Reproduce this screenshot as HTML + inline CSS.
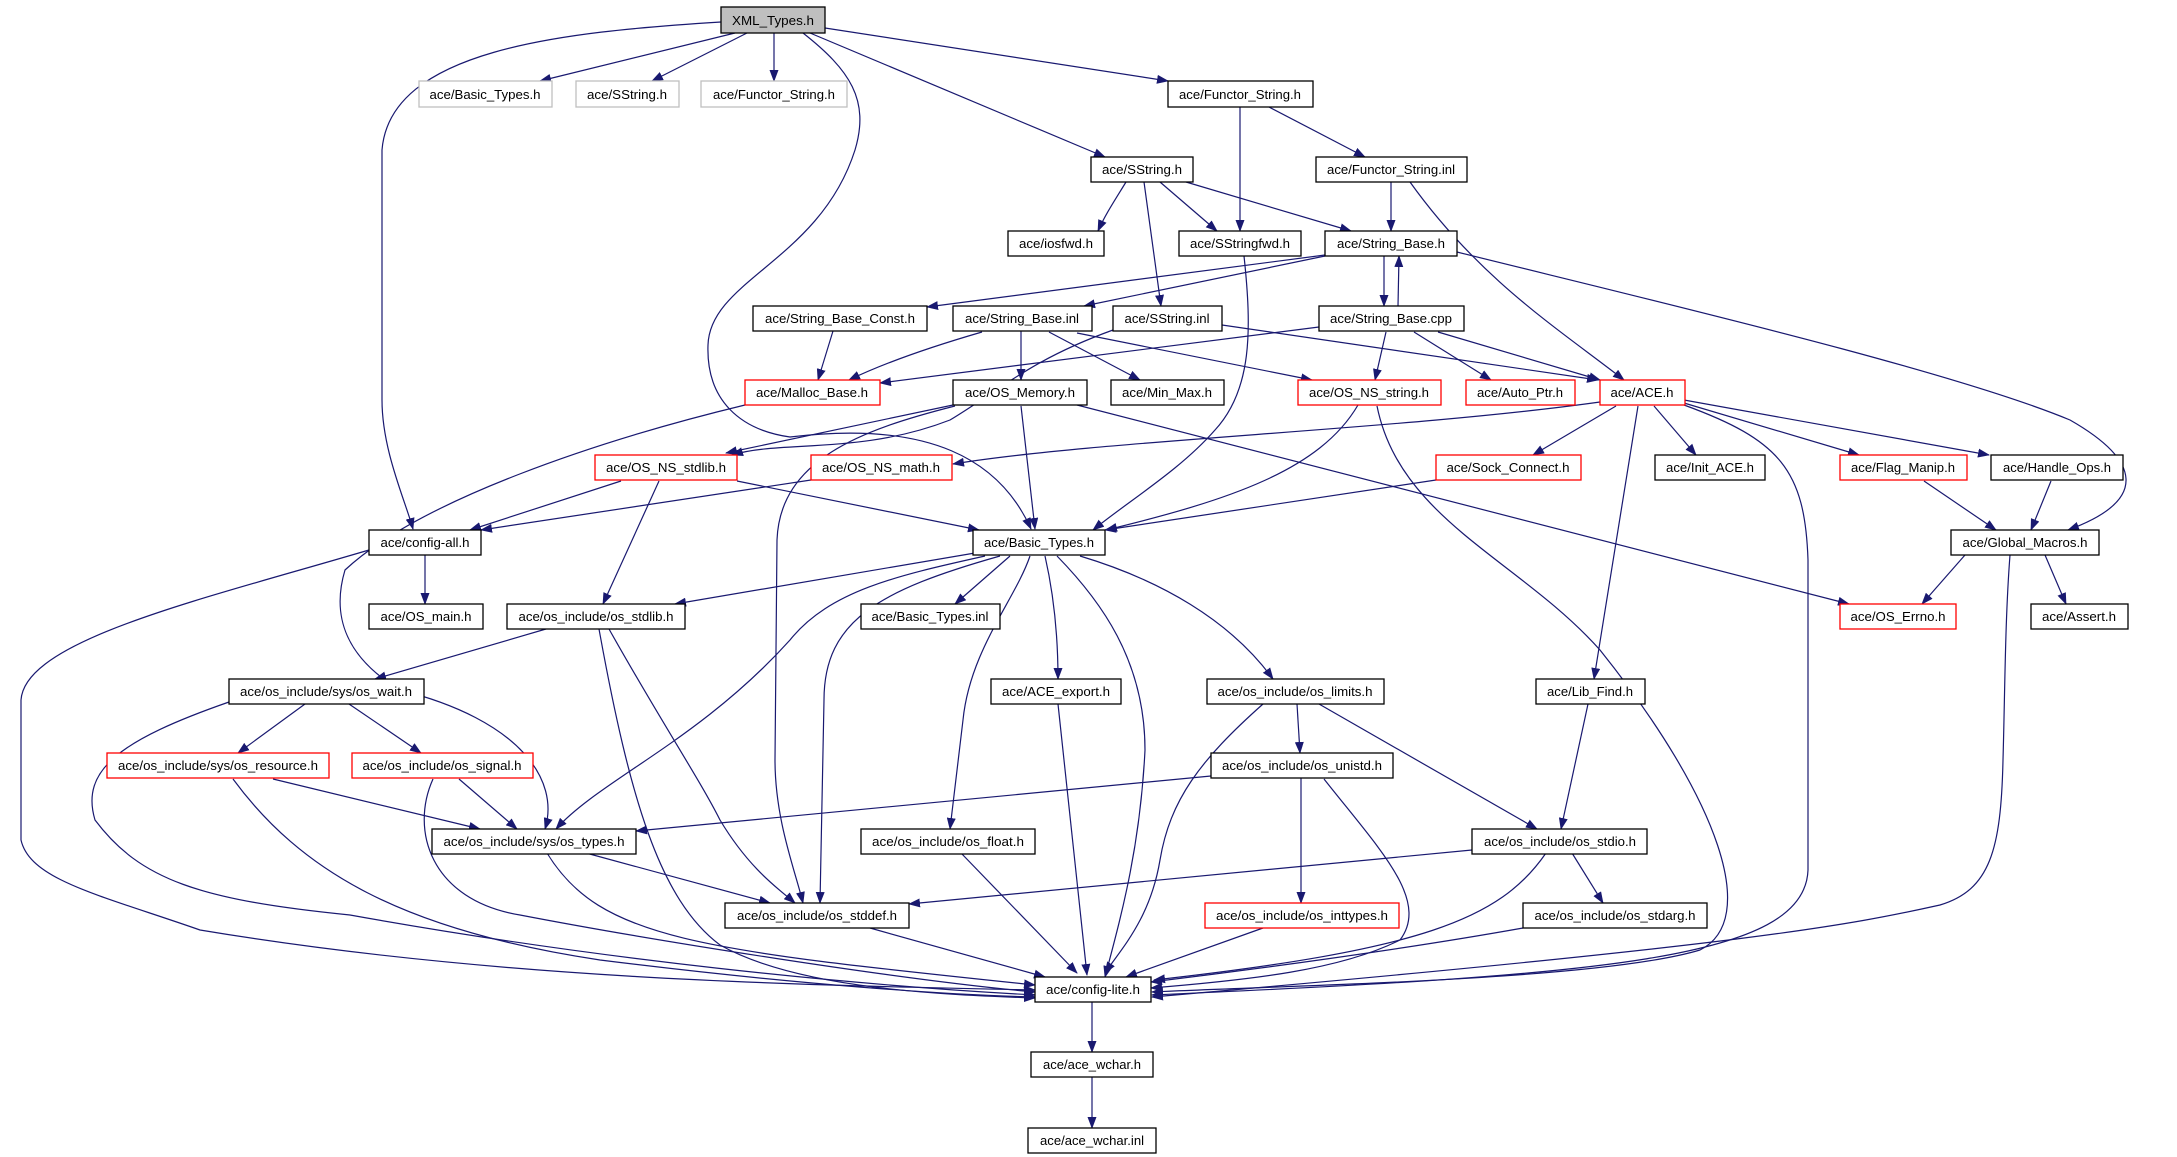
<!DOCTYPE html>
<html><head><meta charset="utf-8"><style>
html,body{margin:0;padding:0;background:#fff}
svg{display:block}
text{font-family:"Liberation Sans",sans-serif;font-size:13px;fill:#000}
.e{fill:none;stroke:#191970;stroke-width:1.2}
</style></head><body>
<svg width="2177" height="1157" viewBox="0 0 2177 1157" xmlns="http://www.w3.org/2000/svg">
<defs><marker id="a" markerWidth="12" markerHeight="9" refX="11" refY="4.5" orient="auto" markerUnits="userSpaceOnUse"><path d="M0,0 L12,4.5 L0,9 z" fill="#191970"/></marker></defs>
<g class="e" marker-end="url(#a)">
<path d="M721,22 C560,32 390,50 382,150 L382,400 C382,450 405,500 413,529"/>
<path d="M735,33 L540,81"/>
<path d="M747,33 L652,81"/>
<path d="M774,33 L774,81"/>
<path d="M803,33 C850,70 870,100 855,150 C820,260 710,280 708,345 C706,400 740,430 790,437 C930,420 1000,460 1031,529"/>
<path d="M810,33 L1105,157"/>
<path d="M825,28 L1168,81"/>
<path d="M1240,107 L1240,231"/>
<path d="M1269,107 L1365,157"/>
<path d="M1126,182 C1115,200 1105,215 1098,231"/>
<path d="M1160,182 L1217,231"/>
<path d="M1186,182 L1351,231"/>
<path d="M1144,182 L1161,306"/>
<path d="M1391,182 L1391,231"/>
<path d="M1410,182 C1440,220 1460,240 1480,280 C1540,390 1590,440 1624,380" style="display:none"/>
<path d="M1410,182 C1450,240 1500,300 1530,360 C1570,430 1600,330 1624,380" style="display:none"/>
<path d="M1410,182 C1480,280 1560,330 1624,380"/>
<path d="M1244,256 C1252,330 1252,390 1215,430 C1180,470 1130,500 1093,530"/>
<path d="M1325,255 L927,307"/>
<path d="M1325,256 L1084,306"/>
<path d="M1384,256 L1384,306"/>
<path d="M1398,306 L1399,256"/>
<path d="M1457,252 C1650,300 1950,370 2070,420 C2140,460 2150,500 2068,530"/>
<path d="M833,331 L818,380"/>
<path d="M982,332 C920,350 880,365 849,380"/>
<path d="M1021,331 L1021,380"/>
<path d="M1049,332 L1140,380"/>
<path d="M1077,333 L1312,380"/>
<path d="M1222,325 L1598,380"/>
<path d="M1113,330 C1030,360 1000,390 950,420 C860,455 780,440 732,455"/>
<path d="M1319,327 L880,383"/>
<path d="M1386,332 L1375,380"/>
<path d="M1414,332 L1491,380"/>
<path d="M1438,332 L1600,380"/>
<path d="M745,405 C600,440 420,500 345,570 C330,620 350,660 400,690 C520,720 560,780 545,829"/>
<path d="M953,405 L726,453"/>
<path d="M1021,406 L1035,529"/>
<path d="M1077,405 L1849,604"/>
<path d="M955,406 C860,430 780,460 777,540 L775,760 C775,820 795,870 803,903"/>
<path d="M1358,405 C1320,470 1230,500 1106,530"/>
<path d="M1377,406 C1400,520 1520,560 1600,650 C1720,800 1760,920 1700,950 C1600,980 1300,985 1152,992"/>
<path d="M1600,402 C1400,430 1100,440 953,464"/>
<path d="M1616,406 L1533,455"/>
<path d="M1654,406 L1696,455"/>
<path d="M1684,403 L1859,455"/>
<path d="M1684,400 L1989,455"/>
<path d="M1638,406 L1594,679"/>
<path d="M1684,405 C1780,440 1805,470 1808,560 L1808,870 C1805,960 1600,975 1152,995"/>
<path d="M621,481 L470,530"/>
<path d="M737,481 L979,530"/>
<path d="M659,481 L603,604"/>
<path d="M811,480 L481,530"/>
<path d="M1436,480 L1105,530"/>
<path d="M1924,481 L1996,530"/>
<path d="M2051,481 L2031,530"/>
<path d="M425,555 L425,604"/>
<path d="M369,550 C200,600 25,640 21,700 L21,840 C30,880 100,895 200,930 C500,980 800,985 1035,990"/>
<path d="M975,553 L675,604"/>
<path d="M1010,556 L955,604"/>
<path d="M985,556 C900,575 830,590 790,640 C700,740 600,780 556,829"/>
<path d="M1000,556 C880,590 824,620 824,700 L820,903"/>
<path d="M1045,556 C1055,600 1058,640 1058,679"/>
<path d="M1030,556 C1015,600 970,650 963,720 L950,829"/>
<path d="M1057,556 C1100,600 1145,660 1145,750 C1140,850 1120,920 1105,977"/>
<path d="M1080,556 C1160,580 1230,620 1273,679"/>
<path d="M546,629 L375,679"/>
<path d="M599,629 C630,800 660,900 720,945 C800,990 950,995 1035,998"/>
<path d="M609,629 C660,720 700,780 720,820 C750,870 780,890 795,903"/>
<path d="M305,704 L238,753"/>
<path d="M349,704 L421,753"/>
<path d="M229,702 C120,740 80,770 95,820 C140,880 200,900 350,915 C600,960 850,985 1035,995"/>
<path d="M273,779 L480,829"/>
<path d="M233,779 C300,870 400,930 600,960 C800,985 950,995 1035,997"/>
<path d="M459,779 L517,829"/>
<path d="M433,779 C410,830 430,900 520,915 C650,940 900,980 1035,992"/>
<path d="M586,853 L770,903"/>
<path d="M547,853 C600,940 700,950 1035,985"/>
<path d="M870,928 L1045,977"/>
<path d="M961,853 L1077,973"/>
<path d="M1058,704 L1087,975"/>
<path d="M1297,704 L1300,753"/>
<path d="M1319,704 L1537,829"/>
<path d="M1263,704 C1200,760 1170,800 1160,860 C1150,920 1120,950 1105,973"/>
<path d="M1211,776 L636,831"/>
<path d="M1301,778 L1301,903"/>
<path d="M1324,779 C1380,850 1430,900 1400,940 C1340,970 1250,980 1151,988"/>
<path d="M1588,704 L1561,829"/>
<path d="M1472,850 L909,904"/>
<path d="M1572,853 L1603,903"/>
<path d="M1546,853 C1500,920 1420,950 1154,980"/>
<path d="M1263,928 L1126,977"/>
<path d="M1523,928 C1400,950 1250,970 1151,982"/>
<path d="M1965,555 L1922,604"/>
<path d="M2045,555 L2066,604"/>
<path d="M2010,555 C2005,620 2005,690 2003,760 C2001,850 1990,890 1940,905 C1850,925 1750,945 1152,997"/>
<path d="M1092,1002 L1092,1052"/>
<path d="M1092,1077 L1092,1128"/>
</g>
<g stroke-width="1.3" fill="#fff">
<rect x="721" y="7" width="104" height="26" fill="#bfbfbf" stroke="#000"/>
<rect x="419" y="81" width="133" height="26" stroke="#bfbfbf"/>
<rect x="576" y="81" width="103" height="26" stroke="#bfbfbf"/>
<rect x="701" y="81" width="146" height="26" stroke="#bfbfbf"/>
<g stroke="#000">
<rect x="1168" y="81" width="145" height="26"/>
<rect x="1091" y="157" width="102" height="25"/>
<rect x="1316" y="157" width="151" height="25"/>
<rect x="1008" y="231" width="96" height="25"/>
<rect x="1179" y="231" width="122" height="25"/>
<rect x="1325" y="231" width="132" height="25"/>
<rect x="753" y="306" width="174" height="25"/>
<rect x="953" y="306" width="139" height="25"/>
<rect x="1113" y="306" width="109" height="25"/>
<rect x="1319" y="306" width="145" height="25"/>
<rect x="953" y="380" width="134" height="25"/>
<rect x="1111" y="380" width="113" height="25"/>
<rect x="1655" y="455" width="110" height="25"/>
<rect x="1991" y="455" width="132" height="25"/>
<rect x="369" y="530" width="112" height="25"/>
<rect x="973" y="530" width="132" height="25"/>
<rect x="1951" y="530" width="148" height="25"/>
<rect x="369" y="604" width="114" height="25"/>
<rect x="507" y="604" width="178" height="25"/>
<rect x="861" y="604" width="139" height="25"/>
<rect x="2031" y="604" width="97" height="25"/>
<rect x="229" y="679" width="195" height="25"/>
<rect x="991" y="679" width="130" height="25"/>
<rect x="1207" y="679" width="177" height="25"/>
<rect x="1536" y="679" width="109" height="25"/>
<rect x="1211" y="753" width="182" height="25"/>
<rect x="432" y="829" width="204" height="25"/>
<rect x="861" y="829" width="174" height="25"/>
<rect x="1472" y="829" width="175" height="25"/>
<rect x="725" y="903" width="184" height="25"/>
<rect x="1523" y="903" width="184" height="25"/>
<rect x="1035" y="977" width="116" height="25"/>
<rect x="1031" y="1052" width="122" height="25"/>
<rect x="1028" y="1128" width="128" height="25"/>
</g>
<g stroke="#ff0000">
<rect x="745" y="380" width="135" height="25"/>
<rect x="1298" y="380" width="143" height="25"/>
<rect x="1466" y="380" width="109" height="25"/>
<rect x="1600" y="380" width="85" height="25"/>
<rect x="595" y="455" width="142" height="25"/>
<rect x="811" y="455" width="141" height="25"/>
<rect x="1436" y="455" width="145" height="25"/>
<rect x="1840" y="455" width="127" height="25"/>
<rect x="1840" y="604" width="116" height="25"/>
<rect x="107" y="753" width="222" height="25"/>
<rect x="352" y="753" width="181" height="25"/>
<rect x="1205" y="903" width="194" height="25"/>
</g>
</g>
<g text-anchor="middle" lengthAdjust="spacingAndGlyphs">
<text x="773" y="25" textLength="82" lengthAdjust="spacingAndGlyphs">XML_Types.h</text>
<text x="485" y="99" textLength="111" lengthAdjust="spacingAndGlyphs">ace/Basic_Types.h</text>
<text x="627" y="99" textLength="80" lengthAdjust="spacingAndGlyphs">ace/SString.h</text>
<text x="774" y="99" textLength="122" lengthAdjust="spacingAndGlyphs">ace/Functor_String.h</text>
<text x="1240" y="99" textLength="122" lengthAdjust="spacingAndGlyphs">ace/Functor_String.h</text>
<text x="1142" y="174" textLength="80" lengthAdjust="spacingAndGlyphs">ace/SString.h</text>
<text x="1391" y="174" textLength="128" lengthAdjust="spacingAndGlyphs">ace/Functor_String.inl</text>
<text x="1056" y="248" textLength="74" lengthAdjust="spacingAndGlyphs">ace/iosfwd.h</text>
<text x="1240" y="248" textLength="100" lengthAdjust="spacingAndGlyphs">ace/SStringfwd.h</text>
<text x="1391" y="248" textLength="108" lengthAdjust="spacingAndGlyphs">ace/String_Base.h</text>
<text x="840" y="323" textLength="150" lengthAdjust="spacingAndGlyphs">ace/String_Base_Const.h</text>
<text x="1022" y="323" textLength="114" lengthAdjust="spacingAndGlyphs">ace/String_Base.inl</text>
<text x="1167" y="323" textLength="85" lengthAdjust="spacingAndGlyphs">ace/SString.inl</text>
<text x="1391" y="323" textLength="122" lengthAdjust="spacingAndGlyphs">ace/String_Base.cpp</text>
<text x="812" y="397" textLength="112" lengthAdjust="spacingAndGlyphs">ace/Malloc_Base.h</text>
<text x="1020" y="397" textLength="110" lengthAdjust="spacingAndGlyphs">ace/OS_Memory.h</text>
<text x="1167" y="397" textLength="90" lengthAdjust="spacingAndGlyphs">ace/Min_Max.h</text>
<text x="1369" y="397" textLength="120" lengthAdjust="spacingAndGlyphs">ace/OS_NS_string.h</text>
<text x="1520" y="397" textLength="86" lengthAdjust="spacingAndGlyphs">ace/Auto_Ptr.h</text>
<text x="1642" y="397" textLength="63" lengthAdjust="spacingAndGlyphs">ace/ACE.h</text>
<text x="666" y="472" textLength="120" lengthAdjust="spacingAndGlyphs">ace/OS_NS_stdlib.h</text>
<text x="881" y="472" textLength="118" lengthAdjust="spacingAndGlyphs">ace/OS_NS_math.h</text>
<text x="1508" y="472" textLength="123" lengthAdjust="spacingAndGlyphs">ace/Sock_Connect.h</text>
<text x="1710" y="472" textLength="88" lengthAdjust="spacingAndGlyphs">ace/Init_ACE.h</text>
<text x="1903" y="472" textLength="104" lengthAdjust="spacingAndGlyphs">ace/Flag_Manip.h</text>
<text x="2057" y="472" textLength="108" lengthAdjust="spacingAndGlyphs">ace/Handle_Ops.h</text>
<text x="425" y="547" textLength="89" lengthAdjust="spacingAndGlyphs">ace/config-all.h</text>
<text x="1039" y="547" textLength="110" lengthAdjust="spacingAndGlyphs">ace/Basic_Types.h</text>
<text x="2025" y="547" textLength="125" lengthAdjust="spacingAndGlyphs">ace/Global_Macros.h</text>
<text x="426" y="621" textLength="91" lengthAdjust="spacingAndGlyphs">ace/OS_main.h</text>
<text x="596" y="621" textLength="155" lengthAdjust="spacingAndGlyphs">ace/os_include/os_stdlib.h</text>
<text x="930" y="621" textLength="117" lengthAdjust="spacingAndGlyphs">ace/Basic_Types.inl</text>
<text x="1898" y="621" textLength="95" lengthAdjust="spacingAndGlyphs">ace/OS_Errno.h</text>
<text x="2079" y="621" textLength="74" lengthAdjust="spacingAndGlyphs">ace/Assert.h</text>
<text x="326" y="696" textLength="172" lengthAdjust="spacingAndGlyphs">ace/os_include/sys/os_wait.h</text>
<text x="1056" y="696" textLength="108" lengthAdjust="spacingAndGlyphs">ace/ACE_export.h</text>
<text x="1295" y="696" textLength="155" lengthAdjust="spacingAndGlyphs">ace/os_include/os_limits.h</text>
<text x="1590" y="696" textLength="86" lengthAdjust="spacingAndGlyphs">ace/Lib_Find.h</text>
<text x="218" y="770" textLength="200" lengthAdjust="spacingAndGlyphs">ace/os_include/sys/os_resource.h</text>
<text x="442" y="770" textLength="159" lengthAdjust="spacingAndGlyphs">ace/os_include/os_signal.h</text>
<text x="1302" y="770" textLength="160" lengthAdjust="spacingAndGlyphs">ace/os_include/os_unistd.h</text>
<text x="534" y="846" textLength="181" lengthAdjust="spacingAndGlyphs">ace/os_include/sys/os_types.h</text>
<text x="948" y="846" textLength="152" lengthAdjust="spacingAndGlyphs">ace/os_include/os_float.h</text>
<text x="1560" y="846" textLength="152" lengthAdjust="spacingAndGlyphs">ace/os_include/os_stdio.h</text>
<text x="817" y="920" textLength="160" lengthAdjust="spacingAndGlyphs">ace/os_include/os_stddef.h</text>
<text x="1302" y="920" textLength="172" lengthAdjust="spacingAndGlyphs">ace/os_include/os_inttypes.h</text>
<text x="1615" y="920" textLength="161" lengthAdjust="spacingAndGlyphs">ace/os_include/os_stdarg.h</text>
<text x="1093" y="994" textLength="94" lengthAdjust="spacingAndGlyphs">ace/config-lite.h</text>
<text x="1092" y="1069" textLength="98" lengthAdjust="spacingAndGlyphs">ace/ace_wchar.h</text>
<text x="1092" y="1145" textLength="104" lengthAdjust="spacingAndGlyphs">ace/ace_wchar.inl</text>
</g>
</svg>
</body></html>
